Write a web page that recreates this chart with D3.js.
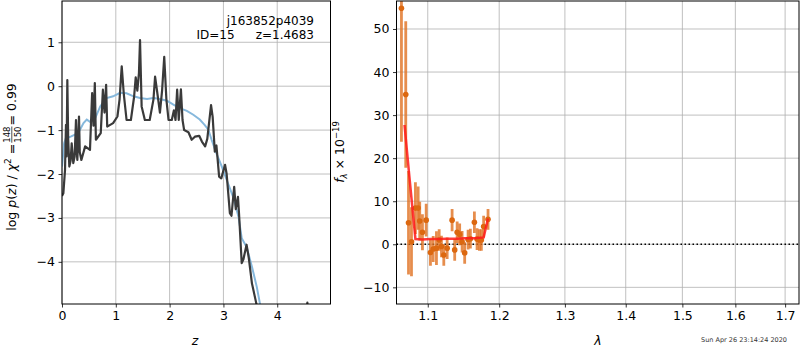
<!DOCTYPE html>
<html>
<head>
<meta charset="utf-8">
<script src="https://cdn.jsdelivr.net/npm/d3@7"></script>
<style>
  body { margin: 0; background: #fff; }
  text { font-family: "DejaVu Sans", sans-serif; }
</style>
</head>
<body>
<div id="chart"></div>
<script>
const width = 800, height = 350;

// p(z) curve (black) and prior-like smooth curve (blue)
const pzZ = [0.00, 0.025, 0.056, 0.074, 0.085, 0.099, 0.115, 0.136, 0.16, 0.18, 0.21, 0.235, 0.26, 0.275, 0.285, 0.316, 0.33, 0.36, 0.43, 0.52, 0.56, 0.585, 0.61, 0.63, 0.72, 0.76, 0.79, 0.82, 0.84, 0.95, 1.03, 1.07, 1.11, 1.15, 1.20, 1.28, 1.34, 1.37, 1.40, 1.43, 1.45, 1.48, 1.54, 1.63, 1.70, 1.73, 1.79, 1.82, 1.86, 1.90, 1.94, 1.98, 2.04, 2.08, 2.11, 2.14, 2.17, 2.21, 2.24, 2.27, 2.35, 2.41, 2.47, 2.55, 2.60, 2.66, 2.70, 2.77, 2.80, 2.84, 2.87, 2.92, 2.96, 3.03, 3.06, 3.12, 3.15, 3.20, 3.23, 3.27, 3.29, 3.34, 3.37, 3.43, 3.47, 3.53, 3.61, 3.70, 3.90, 4.50, 4.56, 4.62, 5.00];
const pzLog = [-2.50, -2.44, -1.91, -0.88, -1.60, 0.14, -1.20, -1.83, -1.70, -1.30, -1.75, -1.60, -0.77, -1.50, -1.68, -0.69, -1.50, -1.68, -1.37, -1.45, -0.16, -0.90, 0.07, -1.22, -1.07, -0.08, -0.60, 0.03, -0.92, -0.84, -0.69, -0.30, 0.45, -0.20, -0.77, -0.77, -0.24, 0.20, -0.10, 0.30, 1.05, -0.46, -0.77, -0.77, -0.30, 0.22, -0.32, -0.60, -0.10, 0.67, -0.30, -0.77, -0.77, -0.55, -0.77, -0.08, -0.77, -0.07, -0.77, -1.00, -1.05, -1.22, -1.15, -1.13, -1.26, -1.37, -1.20, -0.43, -0.70, -1.49, -1.35, -2.06, -2.10, -1.79, -2.00, -2.89, -2.95, -2.29, -2.80, -2.52, -2.90, -4.03, -3.95, -3.61, -3.90, -4.49, -4.94, -5.50, -7.00, -6.00, -4.93, -6.00, -8.00];

const priorZ = [0.00, 0.04, 0.07, 0.16, 0.30, 0.40, 0.46, 0.52, 0.61, 0.71, 0.83, 0.95, 1.08, 1.20, 1.33, 1.45, 1.58, 1.70, 1.82, 1.95, 2.07, 2.19, 2.32, 2.44, 2.56, 2.65, 2.72, 2.78, 2.87, 2.97, 3.06, 3.18, 3.28, 3.34, 3.43, 3.53, 3.62, 3.68, 3.80];
const priorLog = [-1.83, -1.30, -1.19, -1.15, -1.07, -0.84, -0.76, -0.81, -0.75, -0.46, -0.27, -0.23, -0.15, -0.16, -0.23, -0.27, -0.29, -0.27, -0.29, -0.33, -0.42, -0.50, -0.56, -0.65, -0.76, -0.88, -0.99, -1.22, -1.53, -1.83, -2.13, -2.52, -2.97, -3.46, -3.66, -4.11, -4.57, -4.96, -5.80];

// spectrum points with errors, and model
const specWave = [1.0653, 1.0709, 1.0745, 1.0784, 1.0836, 1.0872, 1.0893, 1.0929, 1.0979, 1.1036, 1.1073, 1.1117, 1.1154, 1.1185, 1.1217, 1.1263, 1.1331, 1.1367, 1.1401, 1.1436, 1.1470, 1.1506, 1.1554, 1.1586, 1.1643, 1.1681, 1.1714, 1.1742, 1.1775, 1.1838];
const specFlux = [54.8, 34.8, 5.0, 0.6, 8.4, 8.4, 5.4, 2.8, 5.6, -1.9, -1.1, -0.9, 1.0, -0.5, -2.5, -0.9, 5.6, -1.3, 2.8, 2.3, 0.6, -2.0, 1.1, 1.3, 5.1, 1.2, 1.0, 1.0, 4.1, 5.8];
const specErr = [31, 17, 12, 8, 6, 5, 4.5, 4.2, 3.8, 3.1, 3.0, 3.9, 2.5, 2.5, 2.5, 2.5, 2.6, 2.5, 2.5, 2.5, 2.5, 2.5, 2.3, 2.3, 2.5, 2.5, 2.5, 2.5, 2.5, 2.4];
const modelWave = [1.0693, 1.0752, 1.0836, 1.0929, 1.1036, 1.1154, 1.1263, 1.1401, 1.1506, 1.1643, 1.1775, 1.1838];
const modelFlux = [27.7, 16.5, 1.2, 1.1, 1.2, 1.2, 1.3, 1.3, 1.4, 1.4, 1.6, 6.0];

const zTicks = [0, 1, 2, 3, 4];
const logpTicks = [-4, -3, -2, -1, 0, 1];
const waveTicks = [1.1, 1.2, 1.3, 1.4, 1.5, 1.6, 1.7];
const fluxTicks = [-10, 0, 10, 20, 30, 40, 50];

const svg = d3.select("#chart").append("svg")
  .attr("width", width).attr("height", height);

const fs = 12.5;

function drawAxes(x, y, xt, yt, fmtX, fmtY, id) {
  const [x0, x1] = x.range(), [y1, y0] = y.range();
  const g = svg.append("g");
  g.append("clipPath").attr("id", id)
    .append("rect").attr("x", x0).attr("y", y0).attr("width", x1 - x0).attr("height", y1 - y0);
  // grid
  g.selectAll(".gx").data(xt).join("line")
    .attr("x1", d => x(d)).attr("x2", d => x(d)).attr("y1", y0).attr("y2", y1)
    .attr("stroke", "#b0b0b0").attr("stroke-width", 0.8);
  g.selectAll(".gy").data(yt).join("line")
    .attr("y1", d => y(d)).attr("y2", d => y(d)).attr("x1", x0).attr("x2", x1)
    .attr("stroke", "#b0b0b0").attr("stroke-width", 0.8);
  const ax = g.append("g").attr("transform", `translate(0,${y1})`)
    .call(d3.axisBottom(x).tickValues(xt).tickFormat(fmtX).tickSize(3.5).tickPadding(3.5));
  const ay = g.append("g").attr("transform", `translate(${x0},0)`)
    .call(d3.axisLeft(y).tickValues(yt).tickFormat(fmtY).tickSize(3.5).tickPadding(3.5));
  [ax, ay].forEach(a => {
    a.select(".domain").remove();
    a.selectAll("text").attr("font-size", fs).attr("fill", "#000")
      .attr("font-family", "DejaVu Sans");
    a.selectAll("line").attr("stroke", "#000").attr("stroke-width", 0.8);
  });
  return { g, x0, x1, y0, y1 };
}

// ---------- left panel: p(z)
const xz = d3.scaleLinear([0, 4.99], [62, 330.5]);
const yz = d3.scaleLinear([-4.96, 1.94], [304, 1]);
const left = drawAxes(xz, yz, zTicks, logpTicks, d3.format("d"), d3.format("d"), "clipL");

const lineZ = d3.line().x(d => xz(d[0])).y(d => yz(d[1]));
const plotL = svg.append("g").attr("clip-path", "url(#clipL)");
plotL.append("path").attr("d", lineZ(d3.zip(priorZ, priorLog)))
  .attr("fill", "none").attr("stroke", "#86b8dc").attr("stroke-width", 2);
plotL.append("path").attr("d", lineZ(d3.zip(pzZ, pzLog)))
  .attr("fill", "none").attr("stroke", "#3a3a3a").attr("stroke-width", 2.2)
  .attr("stroke-linejoin", "round");

svg.append("rect").attr("x", left.x0).attr("y", left.y0)
  .attr("width", left.x1 - left.x0).attr("height", left.y1 - left.y0)
  .attr("fill", "none").attr("stroke", "#000").attr("stroke-width", 1);

svg.append("text").attr("x", 314).attr("y", 25).attr("text-anchor", "end")
  .attr("font-size", 12).text("j163852p4039");
svg.append("text").attr("x", 196.5).attr("y", 39)
  .attr("font-size", 12).text("ID=15");
svg.append("text").attr("x", 314).attr("y", 39).attr("text-anchor", "end")
  .attr("font-size", 12).text("z=1.4683");

svg.append("text").attr("x", 195).attr("y", 345).attr("text-anchor", "middle")
  .attr("font-size", fs).attr("font-style", "italic").text("z");

// y label with mathtext-like pieces
const yl = svg.append("g").attr("transform", "translate(16,157) rotate(-90)");
const inner = yl.append("g");
const partA = inner.append("text").attr("font-size", fs);
partA.append("tspan").text("log ");
partA.append("tspan").attr("font-style", "italic").text("p");
partA.append("tspan").text("(");
partA.append("tspan").attr("font-style", "italic").text("z");
partA.append("tspan").text(") / ");
partA.append("tspan").attr("font-style", "italic").text("χ");
partA.append("tspan").attr("font-size", 9).attr("dy", -5).text("2");
partA.append("tspan").attr("dy", 5).text(" = ");
const wA = partA.node().getComputedTextLength();
const fr = inner.append("g").attr("transform", `translate(${wA + 1},0)`);
const num = fr.append("text").attr("font-size", 8.5).attr("y", -6).text("148");
const den = fr.append("text").attr("font-size", 8.5).attr("y", 4.5).text("150");
const wF = Math.max(num.node().getComputedTextLength(), den.node().getComputedTextLength());
fr.append("line").attr("x1", 0).attr("x2", wF).attr("y1", -4.2).attr("y2", -4.2)
  .attr("stroke", "#000").attr("stroke-width", 0.7);
const partC = inner.append("text").attr("font-size", fs).attr("x", wA + wF + 2).text("= 0.99");
const wAll = wA + wF + 2 + partC.node().getComputedTextLength();
inner.attr("transform", `translate(${-wAll / 2},0)`);

// ---------- right panel: spectrum
const xw = d3.scaleLog([1.0589, 1.729], [396.5, 799]);
const yf = d3.scaleLinear([-13.87, 56.5], [304, 1]);
const right = drawAxes(xw, yf, waveTicks, fluxTicks, d3.format(".1f"), d3.format("d"), "clipR");

const plotR = svg.append("g").attr("clip-path", "url(#clipR)");
plotR.append("line").attr("x1", right.x0).attr("x2", right.x1)
  .attr("y1", yf(0)).attr("y2", yf(0))
  .attr("stroke", "#000").attr("stroke-width", 1.5).attr("stroke-dasharray", "1.5,2.5");

const spec = d3.range(specWave.length).map(i => ({ w: specWave[i], f: specFlux[i], e: specErr[i] }));
plotR.selectAll(".err").data(spec).join("line")
  .attr("x1", d => xw(d.w)).attr("x2", d => xw(d.w))
  .attr("y1", d => yf(d.f - d.e)).attr("y2", d => yf(d.f + d.e))
  .attr("stroke", "#e07020").attr("stroke-opacity", 0.8).attr("stroke-width", 2.8);
plotR.selectAll(".pt").data(spec).join("circle")
  .attr("cx", d => xw(d.w)).attr("cy", d => yf(d.f)).attr("r", 2.8)
  .attr("fill", "#dc6810");

plotR.append("path")
  .attr("d", d3.line().x(d => xw(d[0])).y(d => yf(d[1]))(d3.zip(modelWave, modelFlux)))
  .attr("fill", "none").attr("stroke", "#ff1a1a").attr("stroke-opacity", 0.85)
  .attr("stroke-width", 2.5);

svg.append("rect").attr("x", right.x0).attr("y", right.y0)
  .attr("width", right.x1 - right.x0).attr("height", right.y1 - right.y0)
  .attr("fill", "none").attr("stroke", "#000").attr("stroke-width", 1);

svg.append("text").attr("x", 598).attr("y", 345).attr("text-anchor", "middle")
  .attr("font-size", fs).attr("font-style", "italic").text("λ");

const fl = svg.append("text").attr("transform", "translate(344,152) rotate(-90)")
  .attr("text-anchor", "middle").attr("font-size", fs);
fl.append("tspan").attr("font-style", "italic").text("f");
fl.append("tspan").attr("font-size", 8.5).attr("font-style", "italic").attr("dy", 3).text("λ");
fl.append("tspan").attr("dy", -3).text(" × 10");
fl.append("tspan").attr("font-size", 8.5).attr("dy", -5).text("−19");

svg.append("text").attr("x", 787).attr("y", 342).attr("text-anchor", "end")
  .attr("font-size", 6.5).attr("fill", "#333").text("Sun Apr 26 23:14:24 2020");
</script>
</body>
</html>
